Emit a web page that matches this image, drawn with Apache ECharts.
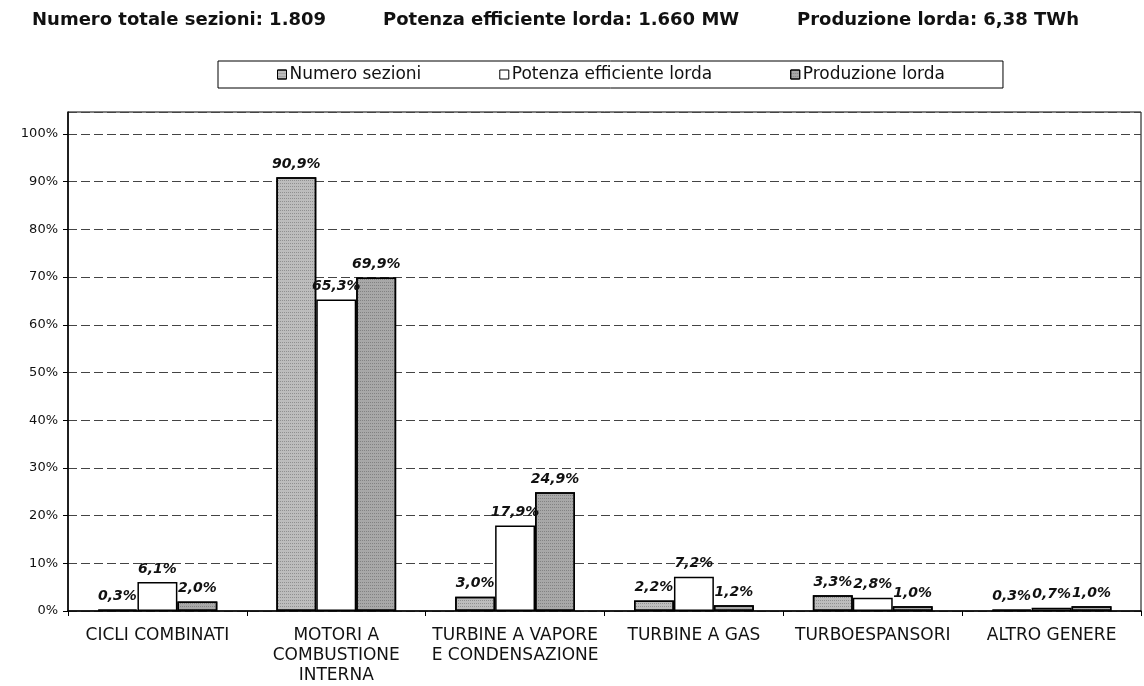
<!DOCTYPE html>
<html>
<head>
<meta charset="utf-8">
<script src="https://cdn.jsdelivr.net/npm/echarts@6/dist/echarts.min.js"></script>
<style>
  html, body { margin: 0; padding: 0; background: #fff; }
  #chart { width: 1144px; height: 686px; }
</style>
</head>
<body>
<div id="chart"></div>
<script>
const categories = [
  'CICLI COMBINATI',
  'MOTORI A\nCOMBUSTIONE\nINTERNA',
  'TURBINE A VAPORE\nE CONDENSAZIONE',
  'TURBINE A GAS',
  'TURBOESPANSORI',
  'ALTRO GENERE'
];
const numeroSezioni = [0.3, 90.9, 3.0, 2.2, 3.3, 0.3];
const potenzaEfficiente = [6.1, 65.3, 17.9, 7.2, 2.8, 0.7];
const produzioneLorda = [2.0, 69.9, 24.9, 1.2, 1.0, 1.0];
const seriesNames = ['Numero sezioni', 'Potenza efficiente lorda', 'Produzione lorda'];
const headerTexts = [
  'Numero totale sezioni: 1.809',
  'Potenza efficiente lorda: 1.660 MW',
  'Produzione lorda: 6,38 TWh'
];

const FONT = 'DejaVu Sans, Liberation Sans, Arial, sans-serif';
const chart = echarts.init(document.getElementById('chart'));

const fmt = v => v.toFixed(1).replace('.', ',') + '%';

const labelStyle = {
  show: true,
  position: 'top',
  distance: 6,
  fontFamily: FONT,
  fontSize: 14,
  fontWeight: 'bold',
  fontStyle: 'italic',
  color: '#111',
  formatter: p => fmt(p.value)
};

// stippled grey fill, like the scanned original
const stipple = {
  symbol: 'rect',
  symbolSize: 1,
  dashArrayX: [1, 1],
  dashArrayY: [1, 2],
  color: 'rgba(60, 60, 60, 0.35)'
};

function barSeries(name, data, color, decal) {
  const itemStyle = { color: color, borderColor: '#000', borderWidth: 1.5 };
  if (decal) itemStyle.decal = decal;
  return {
    name: name,
    type: 'bar',
    data: data,
    barGap: '0%',
    barCategoryGap: '33%',
    itemStyle: itemStyle,
    label: labelStyle
  };
}

const option = {
  animation: false,
  textStyle: { fontFamily: FONT },
  title: [
    { text: headerTexts[0], left: 32, top: 11 },
    { text: headerTexts[1], left: 383, top: 11 },
    { text: headerTexts[2], left: 797, top: 11 }
  ].map(t => Object.assign(t, {
    padding: 0,
    textStyle: { fontFamily: FONT, fontSize: 18, fontWeight: 'bold', color: '#111' }
  })),
  legend: {
    data: seriesNames,
    left: 218,
    top: 61,
    padding: [5, 58, 5, 59],
    borderColor: '#000',
    borderWidth: 1,
    itemWidth: 9,
    itemHeight: 9,
    itemGap: 78,
    icon: 'rect',
    itemStyle: { borderColor: '#000', borderWidth: 1 },
    textStyle: { fontFamily: FONT, fontSize: 17, color: '#111', padding: [0, 0, 0, -2] }
  },
  grid: {
    left: 68,
    right: 3,
    top: 112,
    bottom: 75,
    show: true,
    borderColor: '#000',
    borderWidth: 1,
    containLabel: false
  },
  xAxis: {
    type: 'category',
    data: categories,
    axisLine: { lineStyle: { color: '#000', width: 1.5 } },
    axisTick: { show: true, length: 5, lineStyle: { color: '#000' } },
    axisLabel: {
      interval: 0,
      margin: 15,
      fontFamily: FONT,
      fontSize: 17,
      lineHeight: 20,
      color: '#111'
    }
  },
  yAxis: {
    type: 'value',
    min: 0,
    max: 104.6,
    interval: 10,
    axisLine: { show: true, lineStyle: { color: '#000', width: 1.5 } },
    axisTick: { show: true, length: 5, lineStyle: { color: '#000' } },
    axisLabel: {
      showMaxLabel: false,
      margin: 10,
      fontFamily: FONT,
      fontSize: 13,
      color: '#111',
      formatter: v => (v % 10 === 0 ? v + '%' : '')
    },
    splitLine: { lineStyle: { color: '#444', type: [9, 4], width: 1 } }
  },
  series: [
    barSeries(seriesNames[0], numeroSezioni, '#bdbdbd', stipple),
    barSeries(seriesNames[1], potenzaEfficiente, '#ffffff', null),
    barSeries(seriesNames[2], produzioneLorda, '#a8a8a8', stipple)
  ]
};

chart.setOption(option);
</script>
</body>
</html>
